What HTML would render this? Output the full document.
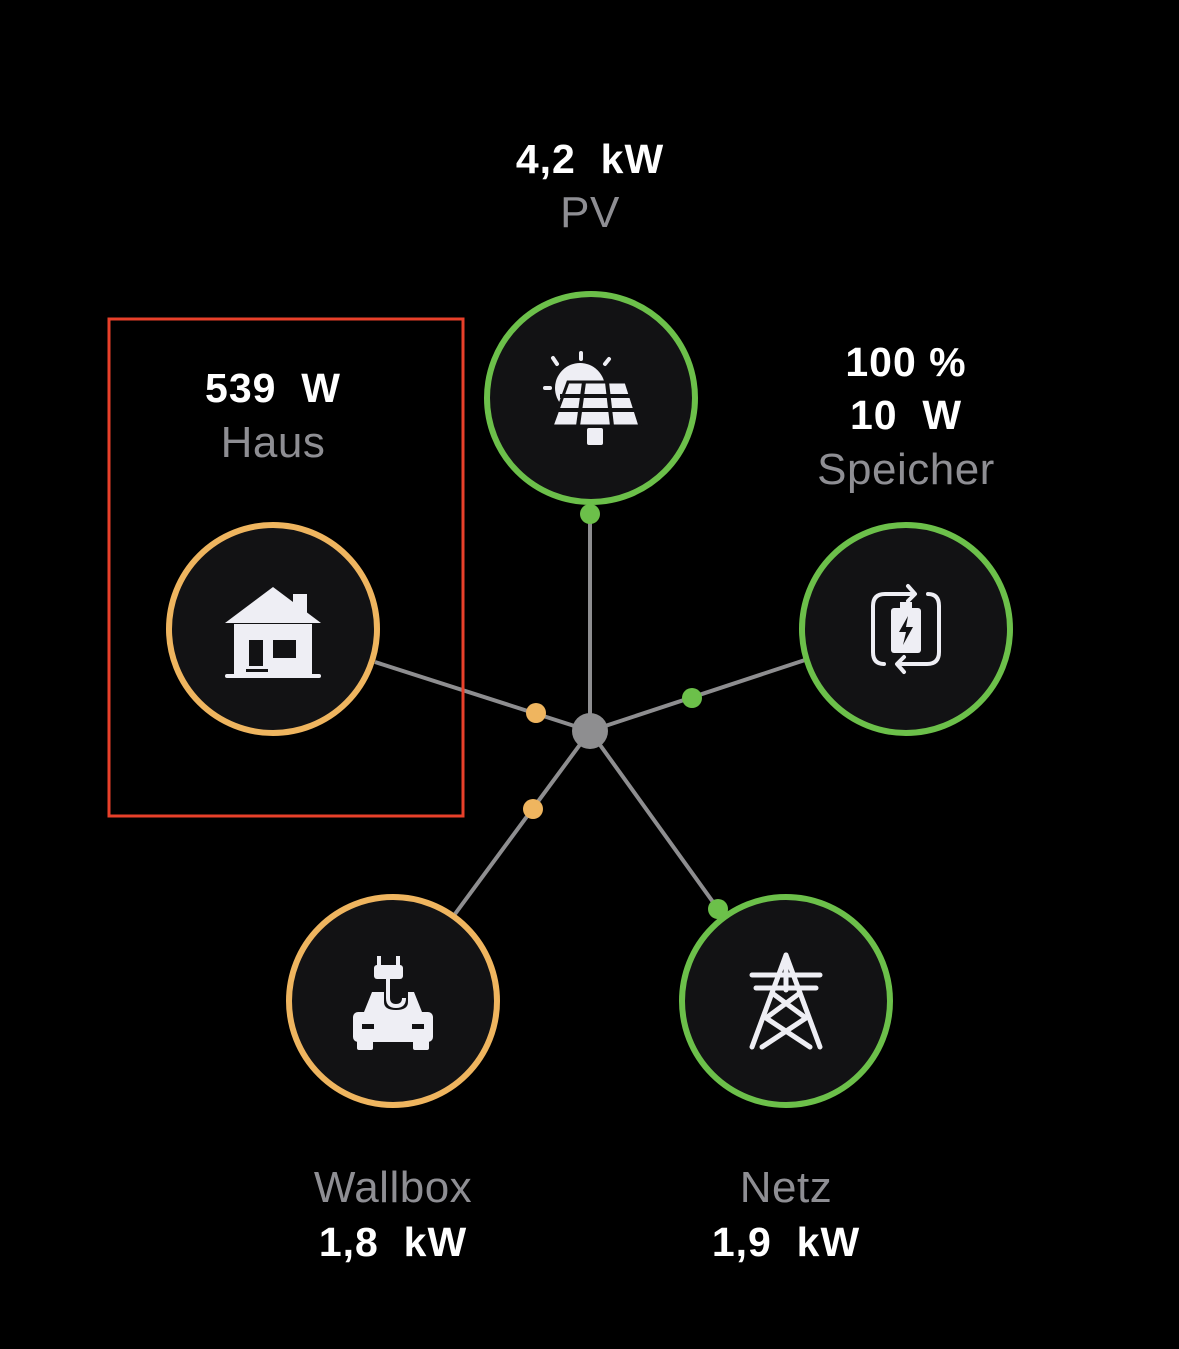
<!DOCTYPE html>
<html><head><meta charset="utf-8"><style>
html,body{margin:0;padding:0;background:#000;}
svg{display:block}
text{font-family:"Liberation Sans","DejaVu Sans",sans-serif;text-anchor:middle;white-space:pre}
.v{fill:#fff;font-weight:bold;font-size:41px;letter-spacing:1px}
.l{fill:#8e8e93;font-size:44px;letter-spacing:0.5px}
</style></head><body>
<svg width="1179" height="1349" viewBox="0 0 1179 1349" xmlns="http://www.w3.org/2000/svg" xml:space="preserve">
<rect width="1179" height="1349" fill="#000"/>
<g stroke="#8e8e90" stroke-width="4">
<line x1="590" y1="731" x2="590" y2="500"/>
<line x1="590" y1="731" x2="375" y2="662"/>
<line x1="590" y1="731" x2="805" y2="660"/>
<line x1="590" y1="731" x2="455" y2="914"/>
<line x1="590" y1="731" x2="718" y2="909"/>
</g>
<circle cx="590" cy="731" r="18" fill="#8e8e90"/>
<g stroke-width="6">
<circle cx="591" cy="398" r="104" fill="#121214" stroke="#6cc04a"/>
<circle cx="273" cy="629" r="104" fill="#121214" stroke="#efb55f"/>
<circle cx="906" cy="629" r="104" fill="#121214" stroke="#6cc04a"/>
<circle cx="393" cy="1001" r="104" fill="#121214" stroke="#efb55f"/>
<circle cx="786" cy="1001" r="104" fill="#121214" stroke="#6cc04a"/>
</g>
<circle cx="590" cy="514" r="10" fill="#6cc04a"/>
<circle cx="536" cy="713" r="10" fill="#efb55f"/>
<circle cx="692" cy="698" r="10" fill="#6cc04a"/>
<circle cx="533" cy="809" r="10" fill="#efb55f"/>
<circle cx="718" cy="909" r="10" fill="#6cc04a"/>
<rect x="109" y="319" width="354" height="497" fill="none" stroke="#e8402a" stroke-width="3"/>
<g fill="#eeeef4">
<circle cx="580" cy="388" r="25"/>
<rect x="579" y="351" width="4" height="10" rx="2"/>
<rect x="543" y="386" width="9" height="4" rx="2"/>
<g stroke="#eeeef4" stroke-width="4" stroke-linecap="round"><line x1="553" y1="358" x2="557" y2="364"/><line x1="609" y1="359" x2="605" y2="364"/></g>
<polygon points="568,382 626,382 640,426 552,426" stroke="#121214" stroke-width="3"/>
<g stroke="#121214" stroke-width="4"><line x1="560" y1="396" x2="632" y2="396"/><line x1="556" y1="410" x2="636" y2="410"/><line x1="584" y1="382" x2="578" y2="426"/><line x1="607" y1="382" x2="612" y2="426"/></g>
<rect x="587" y="428" width="16" height="17" rx="2"/>
</g>
<g fill="#eeeef4">
<polygon points="273,587 321,623 225,623"/>
<rect x="293" y="594" width="14" height="20"/>
<rect x="234" y="624" width="78" height="50"/>
<rect x="225" y="674" width="96" height="4" rx="2"/>
<rect x="249" y="640" width="14" height="26" fill="#121214"/>
<rect x="273" y="640" width="23" height="18" fill="#121214"/>
<rect x="246" y="669" width="22" height="3" fill="#121214"/>
</g>
<g fill="none" stroke="#eeeef4" stroke-width="4" stroke-linecap="round" stroke-linejoin="round">
<path d="M884 664 Q873 664 873 652 V606 Q873 594 885 594 H912 M908 586 L915 594 L908 601"/>
<path d="M928 594 Q939 594 939 606 V652 Q939 664 927 664 H900 M904 672 L897 664 L904 657"/>
</g>
<rect x="891" y="608" width="30" height="45" rx="3" fill="#eeeef4"/>
<rect x="900" y="602" width="12" height="7" fill="#eeeef4"/>
<path d="M908 616 L899 632 H906 L903 645 L913 627 H906 Z" fill="#121214"/>
<g fill="#eeeef4">
<rect x="377" y="956" width="4" height="10"/><rect x="396" y="956" width="4" height="10"/>
<rect x="374" y="965" width="29" height="14" rx="3"/>
<path d="M388 979 V998 Q388 1006 396 1006 Q404 1006 404 998" fill="none" stroke="#eeeef4" stroke-width="4"/>
<path d="M372 992 H384 V1002 Q384 1010 396 1010 Q408 1010 408 1002 V992 H414 L422 1012 H364 Z"/>
<rect x="353" y="1012" width="80" height="30" rx="5"/>
<rect x="357" y="1040" width="16" height="10" rx="2"/><rect x="413" y="1040" width="16" height="10" rx="2"/>
<rect x="362" y="1024" width="12" height="5" fill="#121214"/><rect x="412" y="1024" width="12" height="5" fill="#121214"/>
</g>
<g fill="none" stroke="#eeeef4" stroke-width="5" stroke-linecap="round" stroke-linejoin="round">
<path d="M786 955 L752 1047 M786 955 L820 1047"/>
<line x1="752" y1="975" x2="820" y2="975"/>
<line x1="756" y1="988" x2="816" y2="988"/>
<path d="M772 993 L806 1018 L762 1047 M800 993 L766 1018 L810 1047"/>
<line x1="786" y1="955" x2="786" y2="990"/>
</g>
<text class="v" x="590" y="173">4,2  kW</text>
<text class="l" x="590" y="227">PV</text>
<text class="v" x="273" y="402">539  W</text>
<text class="l" x="273" y="457">Haus</text>
<text class="v" x="906" y="376">100 %</text>
<text class="v" x="906" y="429">10  W</text>
<text class="l" x="906" y="484">Speicher</text>
<text class="l" x="393" y="1202">Wallbox</text>
<text class="v" x="393" y="1256">1,8  kW</text>
<text class="l" x="786" y="1202">Netz</text>
<text class="v" x="786" y="1256">1,9  kW</text>
</svg>
</body></html>
